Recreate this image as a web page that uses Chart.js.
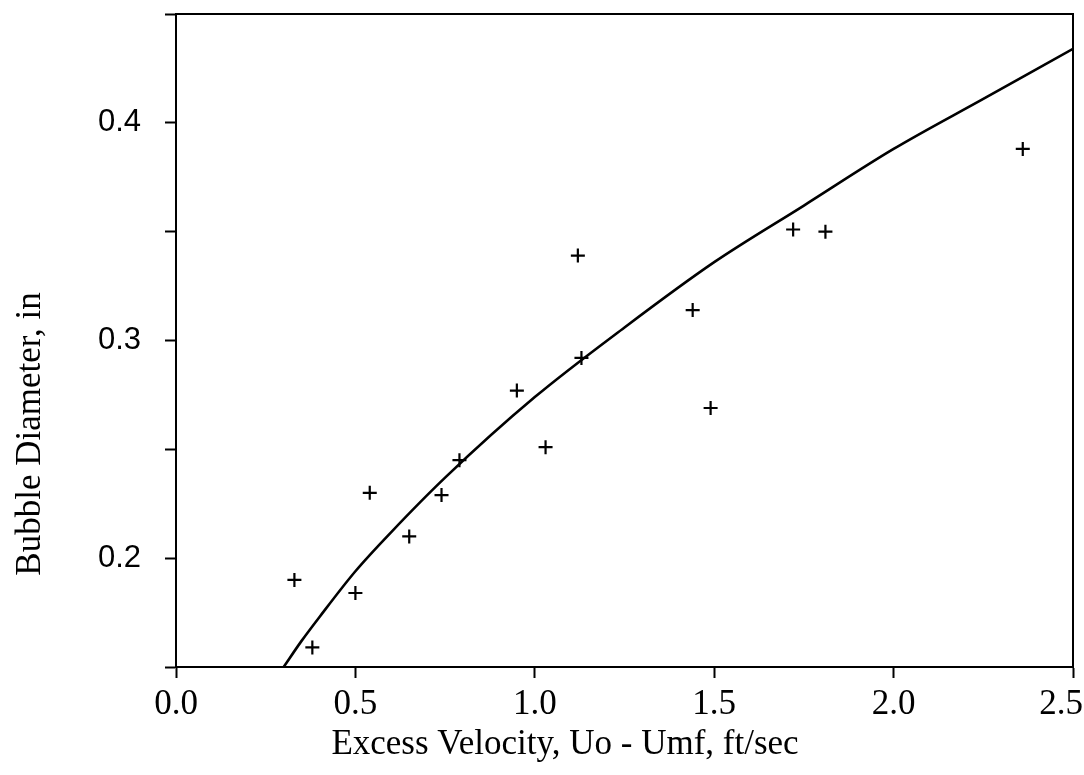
<!DOCTYPE html>
<html>
<head>
<meta charset="utf-8">
<script src="https://cdn.jsdelivr.net/npm/chart.js@4.4.0/dist/chart.umd.min.js"></script>
<style>
  html, body { margin: 0; padding: 0; background: #fff; }
  #wrap { width: 1084px; height: 775px; }
</style>
</head>
<body>
<div id="wrap"><canvas id="bubbleChart"></canvas></div>
<script>
// measured bubble diameters
var velocity = [0.33, 0.38, 0.50, 0.54, 0.65, 0.74, 0.79, 0.95, 1.03, 1.12, 1.13, 1.44, 1.49, 1.72, 1.81, 2.36];
var diameter = [0.190, 0.159, 0.184, 0.230, 0.210, 0.229, 0.245, 0.277, 0.251, 0.339, 0.292, 0.314, 0.269, 0.351, 0.350, 0.388];

// correlation curve
var fitVelocity = [0.30, 0.35, 0.40, 0.50, 0.60, 0.75, 1.00, 1.25, 1.50, 1.75, 2.00, 2.25, 2.50];
var fitDiameter = [0.150, 0.162, 0.173, 0.194, 0.212, 0.237, 0.274, 0.306, 0.336, 0.362, 0.388, 0.411, 0.434];

// axis ticks
var xTickValues = [0.0, 0.5, 1.0, 1.5, 2.0, 2.5];
var xTickLabels = ['0.0', '0.5', '1.0', '1.5', '2.0', '2.5'];
var yTickValues = [0.15, 0.20, 0.25, 0.30, 0.35, 0.40, 0.45];
var yTickLabels = ['', '0.2', '', '0.3', '', '0.4', ''];

var xTitle = 'Excess Velocity, Uo - Umf, ft/sec';
var yTitle = 'Bubble Diameter, in';

function pairs(xs, ys) {
  return xs.map(function (x, i) { return { x: x, y: ys[i] }; });
}

// closed frame plus the two axis titles
var framePlugin = {
  id: 'frame',
  beforeDraw: function (chart) {
    // keep the last x label inside the canvas
    var items = chart.scales.x.getLabelItems();
    var last = items[items.length - 1];
    if (last && !last.options.shifted) {
      last.options.translation[0] -= 12;
      last.options.shifted = true;
    }
  },
  afterDraw: function (chart) {
    var ctx = chart.ctx, a = chart.chartArea;
    ctx.save();
    ctx.strokeStyle = '#000';
    ctx.lineWidth = 2;
    ctx.strokeRect(a.left, a.top, a.right - a.left, a.bottom - a.top);

    ctx.fillStyle = '#000';
    ctx.font = '35px "Liberation Serif", "Times New Roman", serif';
    ctx.textAlign = 'center';
    ctx.textBaseline = 'middle';
    ctx.fillText(xTitle, a.left + 389, 745);

    ctx.translate(31, 434);
    ctx.rotate(-Math.PI / 2);
    ctx.fillText(yTitle, 0, 0);
    ctx.restore();
  }
};

var ctx = document.getElementById('bubbleChart').getContext('2d');
var chart = new Chart(ctx, {
  type: 'scatter',
  data: {
    datasets: [{
      label: 'Measured',
      data: pairs(velocity, diameter),
      pointStyle: 'cross',
      pointRadius: 7,
      pointBorderWidth: 2.2,
      borderColor: '#000',
      backgroundColor: '#000',
      showLine: false,
      order: 1
    }, {
      label: 'Correlation',
      data: pairs(fitVelocity, fitDiameter),
      showLine: true,
      pointRadius: 0,
      borderColor: '#000',
      borderWidth: 2.6,
      cubicInterpolationMode: 'monotone',
      order: 2
    }]
  },
  options: {
    responsive: true,
    maintainAspectRatio: false,
    animation: false,
    layout: { padding: { top: 14, right: 11, left: 0, bottom: 0 } },
    plugins: {
      legend: { display: false },
      tooltip: { enabled: false }
    },
    scales: {
      x: {
        type: 'linear',
        min: 0,
        max: 2.5,
        afterBuildTicks: function (scale) {
          scale.ticks = xTickValues.map(function (v) { return { value: v }; });
        },
        afterFit: function (scale) {
          scale.height = 108;
          scale.paddingLeft = 0;
          scale.paddingRight = 0;
        },
        ticks: {
          color: '#000',
          padding: 6,
          maxRotation: 0,
          autoSkip: false,
          font: { family: '"Liberation Serif", "Times New Roman", serif', size: 35 },
          callback: function (v, i) { return xTickLabels[i]; }
        },
        grid: {
          drawOnChartArea: false,
          drawTicks: true,
          tickLength: 11,
          tickWidth: 2,
          tickColor: '#000'
        },
        border: { display: true, color: '#000', width: 2 }
      },
      y: {
        type: 'linear',
        min: 0.15,
        max: 0.45,
        afterBuildTicks: function (scale) {
          scale.ticks = yTickValues.map(function (v) { return { value: v }; });
        },
        afterFit: function (scale) {
          scale.width = 176;
          scale.paddingTop = 0;
          scale.paddingBottom = 0;
        },
        ticks: {
          color: '#000',
          padding: 24,
          autoSkip: false,
          font: { family: '"Liberation Sans", Arial, sans-serif', size: 31 },
          callback: function (v, i) { return yTickLabels[i]; }
        },
        grid: {
          drawOnChartArea: false,
          drawTicks: true,
          tickLength: 11,
          tickWidth: 2,
          tickColor: '#000'
        },
        border: { display: true, color: '#000', width: 2 }
      }
    }
  },
  plugins: [framePlugin]
});
</script>
</body>
</html>
